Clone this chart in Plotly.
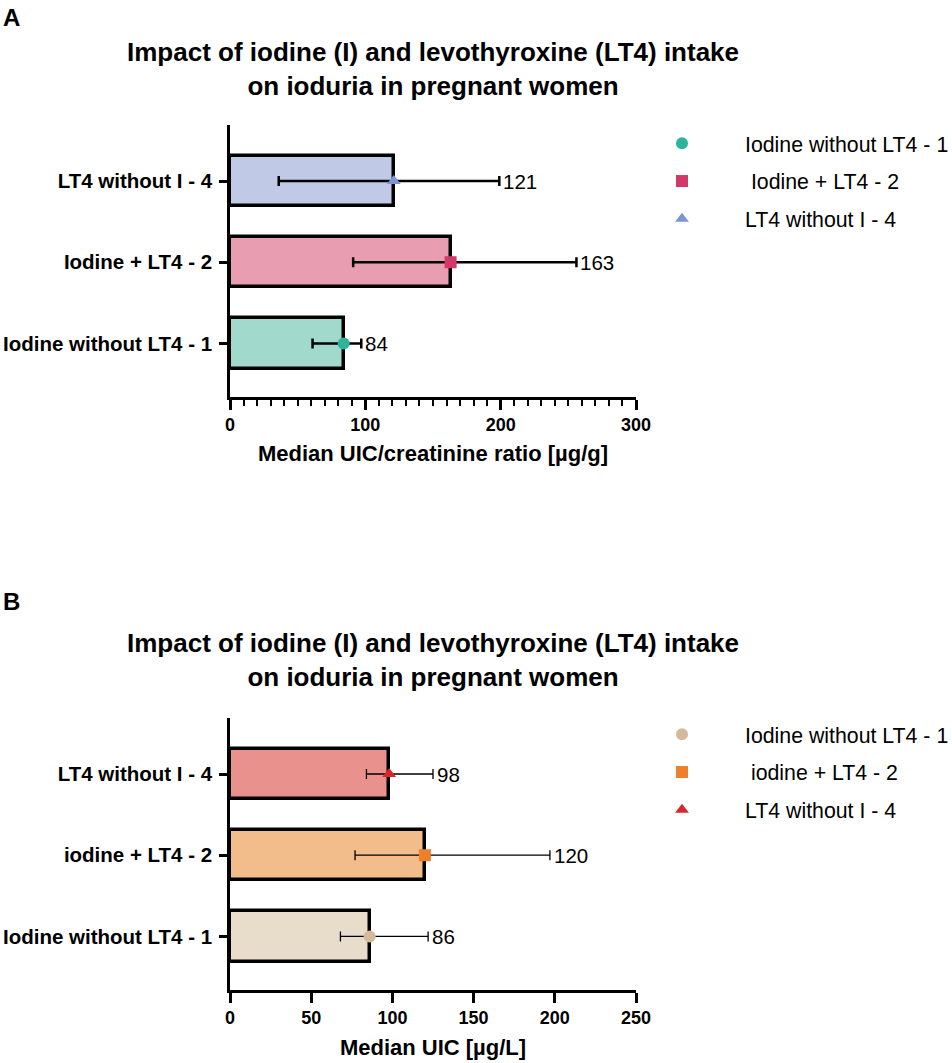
import plotly.graph_objects as go

#%% data

groups_a = ["Iodine without LT4 - 1", "Iodine + LT4 - 2", "LT4 without I - 4"]
legend_a = ["Iodine without LT4 - 1", "\u00a0Iodine + LT4 - 2", "LT4 without I - 4"]
median_a = [84, 163, 121]
low_a = [61, 91, 36]
high_a = [97, 256, 199]

groups_b = ["Iodine without LT4 - 1", "iodine + LT4 - 2", "LT4 without I - 4"]
legend_b = ["Iodine without LT4 - 1", "\u00a0iodine + LT4 - 2", "LT4 without I - 4"]
median_b = [86, 120, 98]
low_b = [68, 77, 84]
high_b = [122, 197, 125]

title_txt = "Impact of iodine (I) and levothyroxine (LT4) intake<br>on ioduria in pregnant women"
xtitle_a = "Median UIC/creatinine ratio [µg/g]"
xtitle_b = "Median UIC [µg/L]"

#%% styling

FONT = "Liberation Sans, Arial, sans-serif"
W, H = 952, 1063

bar_cols_a = ["#a2d9cd", "#e89db0", "#c0c9e6"]
pt_cols_a = ["#2fb49c", "#d3386b", "#7b95d2"]
bar_cols_b = ["#e8dccb", "#f3bd8b", "#e9918c"]
pt_cols_b = ["#d4ba98", "#ee7f2b", "#d8262d"]
symbols = ["circle", "square", "triangle-up"]


def py(px):
    # pixel row -> paper fraction
    return 1 - px / H


def px_x(px):
    return px / W


fig = go.Figure()
notes = []


def add_panel(xa, ya, lg, groups, names, med, lo, hi, bar_cols, pt_cols, err_w):
    fig.add_trace(go.Bar(
        x=med, y=groups, orientation="h", xaxis=xa, yaxis=ya,
        width=0.62, showlegend=False, hoverinfo="skip",
        marker=dict(color=bar_cols, line=dict(color="black", width=3.5)),
    ))
    for i, g in enumerate(groups):
        fig.add_trace(go.Scatter(
            x=[med[i]], y=[g], xaxis=xa, yaxis=ya, mode="markers",
            name=names[i], legend=lg, legendgroup=lg + str(i),
            marker=dict(symbol=symbols[i], size=12, color=pt_cols[i]),
            error_x=dict(type="data", symmetric=False,
                         array=[hi[i] - med[i]], arrayminus=[med[i] - lo[i]],
                         color="black", thickness=err_w, width=5),
        ))
        # median value printed just past the upper whisker
        notes.append(dict(text=str(med[i]), x=hi[i], y=g, xref=xa, yref=ya,
                          xanchor="left", yanchor="middle", xshift=2, showarrow=False,
                          font=dict(family=FONT, size=20.5, color="black")))


add_panel("x", "y", "legend", groups_a, legend_a, median_a, low_a, high_a,
          bar_cols_a, pt_cols_a, 2.5)
add_panel("x2", "y2", "legend2", groups_b, legend_b, median_b, low_b, high_b,
          bar_cols_b, pt_cols_b, 1.3)

xdom = [px_x(230), px_x(636)]
ax_common = dict(showline=True, linecolor="black", linewidth=2.5, ticks="outside",
                 tickcolor="black", tickwidth=2.5, showgrid=False, zeroline=False,
                 automargin=False,
                 tickfont=dict(family=FONT, size=18, color="black", weight="bold"))
y_common = dict(showline=True, linecolor="black", linewidth=2.5, ticks="outside",
                tickcolor="black", tickwidth=2.5, ticklen=8, showgrid=False,
                type="category", range=[-0.66, 2.69], ticklabelstandoff=3,
                automargin=False,
                tickfont=dict(family=FONT, size=20.5, color="black", weight="bold"))

for title_y in (69, 660):
    notes.append(dict(text=title_txt, x=px_x(433), y=py(title_y), xref="paper", yref="paper",
                      xanchor="center", yanchor="middle", showarrow=False,
                      font=dict(family=FONT, size=26, color="black", weight="bold")))
for lab, lab_y in (("A", 18), ("B", 601)):
    notes.append(dict(text=lab, x=px_x(1), y=py(lab_y), xref="paper", yref="paper",
                      xanchor="left", yanchor="middle", showarrow=False,
                      font=dict(family=FONT, size=24, color="black", weight="bold")))

leg_common = dict(xanchor="left", yanchor="top", itemwidth=116, tracegroupgap=7,
                  bgcolor="rgba(0,0,0,0)",
                  font=dict(family=FONT, size=21.3, color="black"))

fig.update_layout(
    width=W, height=H, margin=dict(l=0, r=0, t=0, b=0, autoexpand=False),
    paper_bgcolor="white", plot_bgcolor="white", bargap=0, hovermode=False,
    font=dict(family=FONT, color="black"),
    xaxis=dict(domain=xdom, anchor="y", range=[0, 300], dtick=100, ticklen=10,
               minor=dict(dtick=10, ticks="outside", ticklen=6, tickwidth=2, tickcolor="black"),
               title=dict(text=xtitle_a, standoff=12,
                          font=dict(family=FONT, size=22, color="black", weight="bold")),
               **ax_common),
    yaxis=dict(domain=[py(397), py(125)], anchor="x", **y_common),
    xaxis2=dict(domain=xdom, anchor="y2", range=[0, 250], dtick=50, ticklen=10,
                title=dict(text=xtitle_b, standoff=13,
                           font=dict(family=FONT, size=22, color="black", weight="bold")),
                **ax_common),
    yaxis2=dict(domain=[py(990), py(718)], anchor="x2", **y_common),
    legend=dict(x=px_x(619), y=py(123), **leg_common),
    legend2=dict(x=px_x(619), y=py(714), **leg_common),
    annotations=notes,
)

# page body has a default 8px margin; drop it so the figure sits at the window origin
fig.write_html("out.html", config={"displayModeBar": False},
               post_script="document.body.style.margin='0px';")
